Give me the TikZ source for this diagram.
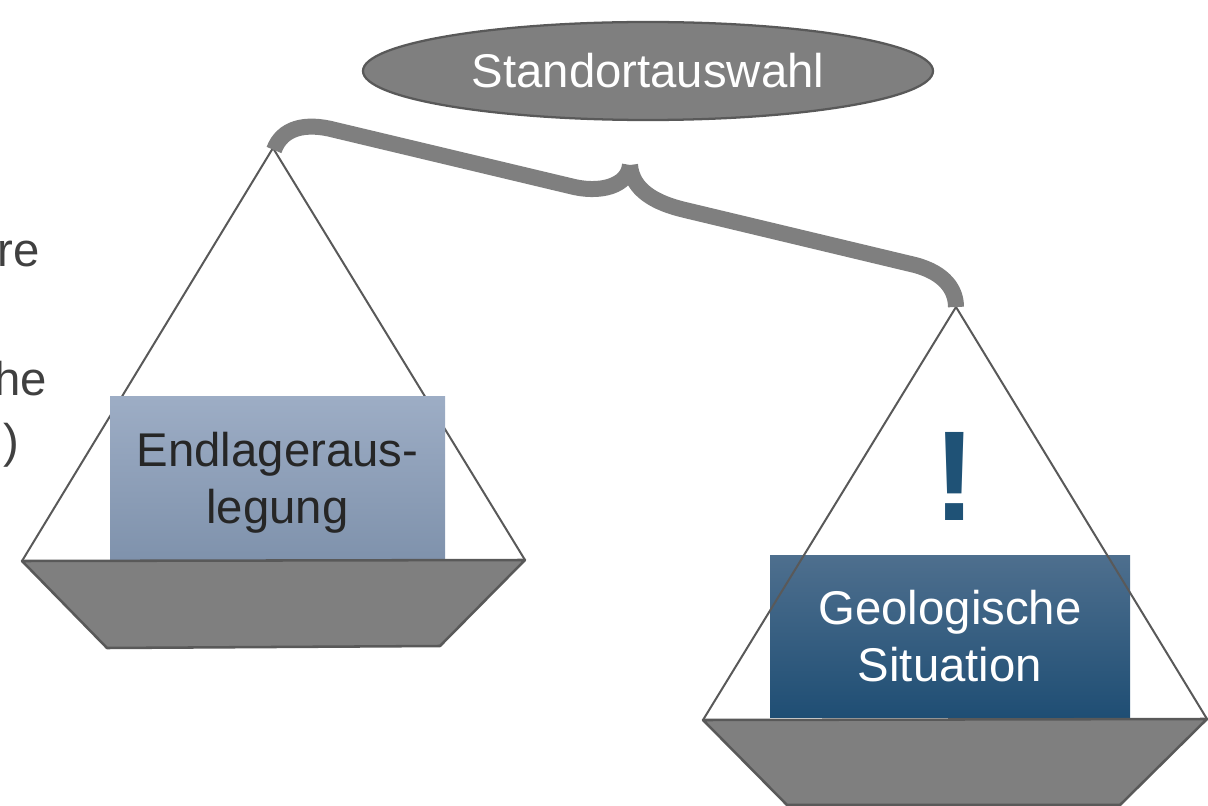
\documentclass[tikz,border=0pt]{standalone}
\usepackage{fontspec}
\setmainfont{Liberation Sans}
\usetikzlibrary{shapes.geometric}

\definecolor{beamgray}{HTML}{7F7F7F}
\definecolor{edgegray}{HTML}{595959}
\definecolor{textgray}{HTML}{404040}
\definecolor{lighttop}{HTML}{9DADC5}
\definecolor{lightbot}{HTML}{7F92AC}
\definecolor{darktop}{HTML}{4E6F8E}
\definecolor{darkbot}{HTML}{1F4E74}
\definecolor{markblue}{HTML}{1F5276}

\begin{document}
\begin{tikzpicture}[x=0.75pt, y=-0.75pt,
		bigtext/.style={font=\fontsize{35.5}{42.75}\selectfont, align=center},
		string/.style={edgegray, line width=1.5pt},
		pan/.style={fill=beamgray, draw=edgegray, line width=1.9pt, line join=round},
		weight/.style={bigtext, inner sep=0pt},
		beam/.style={beamgray, line width=12pt}]
			\useasboundingbox (0,0) rectangle (1208,806);

			% hanging points
			\coordinate (lapex) at (273,148);
			\coordinate (lleft) at (22,561);
			\coordinate (lright) at (525,560);
			\coordinate (rapex) at (956,307);
			\coordinate (rleft) at (703,720);
			\coordinate (rright) at (1207,719);

			% left scale pan
			\draw[string] (lleft) -- (lapex) -- (lright);
			\node[weight, minimum width=251.25pt, minimum height=123pt, top color=lighttop, bottom color=lightbot, text=black!85] (design) at (277.5,478) {\rule{0pt}{33.5pt}Endlageraus-\\legung};
			\draw[pan] (lleft) -- (lright) -- (440,646) -- (107,648) -- cycle;

			% right scale pan
			\node[weight, minimum width=270pt, minimum height=121.5pt, top color=darktop, bottom color=darkbot, text=white] (geology) at (950,636) {Geologische\\Situation};
			\draw[string] (rleft) -- (rapex) -- (rright);
			\draw[pan] (rleft) -- (rright) -- (1120,805) -- (787,805) -- cycle;
			\node[anchor=base, inner sep=0pt, text=markblue, font=\fontsize{96}{100}\selectfont\bfseries] (mark) at (955,520) {!};

			% beam
			\draw[beam] (lapex) ++(1,2) .. controls (282,128) and (305,122) .. (335,130) -- (570,186) .. controls (600,194) and (628,186) .. (630,165);
			\draw[beam] (630,165) .. controls (632,190) and (655,203) .. (685,210) -- (915,265) .. controls (945,273) and (956,290) .. (rapex);

			\node[ellipse, fill=beamgray, draw=edgegray, line width=1.7pt, minimum width=427.5pt, minimum height=73.5pt, inner sep=0pt, text=white, font=\fontsize{35.5}{40}\selectfont] (site) at (648,71) {Standortauswahl};

			% cut-off text at the left edge
			\node[bigtext, text=textgray, anchor=base east, inner sep=0pt] (fragre) at (40,267) {re};
			\node[bigtext, text=textgray, anchor=base east, inner sep=0pt] (fraghe) at (47,395) {he};
			\node[bigtext, text=textgray, anchor=base east, inner sep=0pt] (fragpar) at (20,457) {)};
		\end{tikzpicture}
\end{document}
